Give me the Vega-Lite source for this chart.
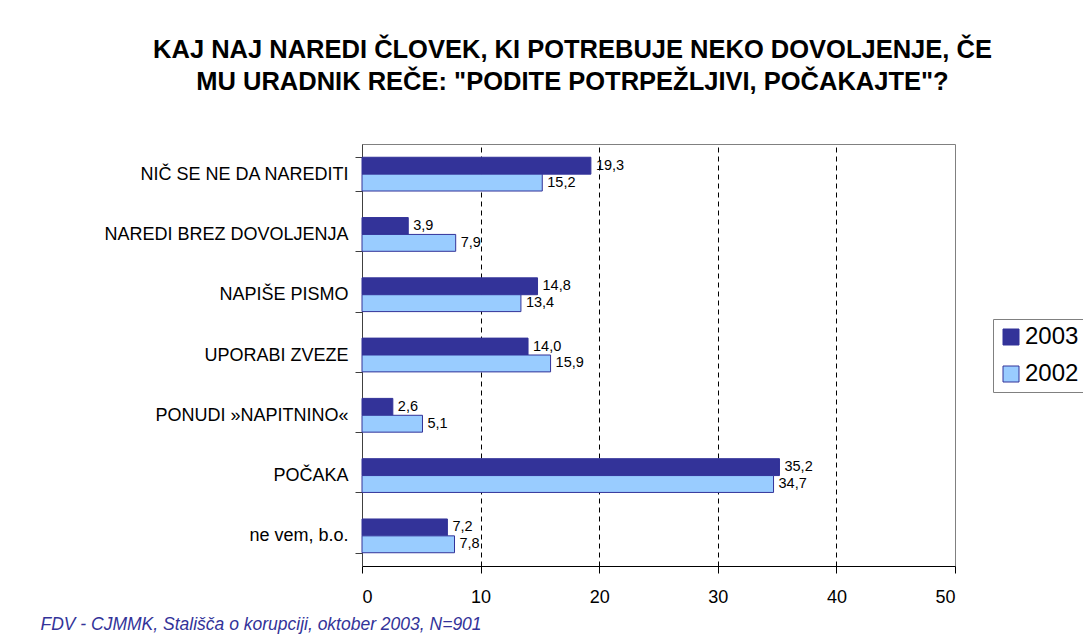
{
  "$schema": "https://vega.github.io/schema/vega-lite/v6.json",
  "autosize": "none",
  "width": 593,
  "height": 422,
  "padding": {"left": 362, "top": 144, "right": 128, "bottom": 72},
  "background": "white",
  "title": {
    "text": ["KAJ NAJ NAREDI ČLOVEK, KI POTREBUJE NEKO DOVOLJENJE, ČE", "MU URADNIK REČE: \"PODITE POTRPEŽLJIVI, POČAKAJTE\"?"],
    "font": "Liberation Sans",
    "fontSize": 25.5,
    "fontWeight": "bold",
    "color": "black",
    "anchor": "middle",
    "dx": -86,
    "offset": 40,
    "lineHeight": 32
  },
  "data": {
    "values": [
      {"odgovor": "NIČ SE NE DA NAREDITI", "leto": "2003", "delez": 19.3, "oznaka": "19,3"},
      {"odgovor": "NIČ SE NE DA NAREDITI", "leto": "2002", "delez": 15.2, "oznaka": "15,2"},
      {"odgovor": "NAREDI BREZ DOVOLJENJA", "leto": "2003", "delez": 3.9, "oznaka": "3,9"},
      {"odgovor": "NAREDI BREZ DOVOLJENJA", "leto": "2002", "delez": 7.9, "oznaka": "7,9"},
      {"odgovor": "NAPIŠE PISMO", "leto": "2003", "delez": 14.8, "oznaka": "14,8"},
      {"odgovor": "NAPIŠE PISMO", "leto": "2002", "delez": 13.4, "oznaka": "13,4"},
      {"odgovor": "UPORABI ZVEZE", "leto": "2003", "delez": 14.0, "oznaka": "14,0"},
      {"odgovor": "UPORABI ZVEZE", "leto": "2002", "delez": 15.9, "oznaka": "15,9"},
      {"odgovor": "PONUDI »NAPITNINO«", "leto": "2003", "delez": 2.6, "oznaka": "2,6"},
      {"odgovor": "PONUDI »NAPITNINO«", "leto": "2002", "delez": 5.1, "oznaka": "5,1"},
      {"odgovor": "POČAKA", "leto": "2003", "delez": 35.2, "oznaka": "35,2"},
      {"odgovor": "POČAKA", "leto": "2002", "delez": 34.7, "oznaka": "34,7"},
      {"odgovor": "ne vem, b.o.", "leto": "2003", "delez": 7.2, "oznaka": "7,2"},
      {"odgovor": "ne vem, b.o.", "leto": "2002", "delez": 7.8, "oznaka": "7,8"}
    ]
  },
  "encoding": {
    "y": {
      "field": "odgovor",
      "type": "nominal",
      "sort": ["NIČ SE NE DA NAREDITI", "NAREDI BREZ DOVOLJENJA", "NAPIŠE PISMO", "UPORABI ZVEZE", "PONUDI »NAPITNINO«", "POČAKA", "ne vem, b.o."],
      "scale": {"paddingInner": 0.44, "paddingOuter": 0.22},
      "axis": {
        "title": null,
        "tickBand": "extent",
        "tickSize": 7,
        "tickColor": "#404040",
        "domainColor": "#404040",
        "labelPadding": 7,
        "labelFontSize": 18,
        "labelLimit": 400,
        "labelColor": "black",
        "labelFont": "Liberation Sans",
        "grid": false
      }
    },
    "yOffset": {
      "field": "leto",
      "type": "nominal",
      "sort": ["2003", "2002"],
      "scale": {"paddingInner": 0, "paddingOuter": 0}
    },
    "x": {
      "field": "delez",
      "type": "quantitative",
      "scale": {"domain": [0, 50], "nice": false},
      "axis": {
        "values": [0, 10, 20, 30, 40, 50],
        "title": "FDV - CJMMK, Stališča o korupciji, oktober 2003, N=901",
        "titleFont": "Liberation Sans",
        "titleFontSize": 17.5,
        "titleFontStyle": "italic",
        "titleFontWeight": "normal",
        "titleColor": "#333399",
        "titleAnchor": "start",
        "titleAlign": "left",
        "titleBaseline": "middle",
        "titleX": -322,
        "titleY": 58,
        "tickSize": 7,
        "tickColor": "black",
        "domainColor": "black",
        "labelPadding": 15,
        "labelFontSize": 18,
        "labelColor": "black",
        "labelFont": "Liberation Sans",
        "grid": true,
        "gridColor": "black",
        "gridDash": [5, 4],
        "gridOpacity": {"condition": {"test": "datum.value == 0 || datum.value == 50", "value": 0}, "value": 1}
      }
    }
  },
  "layer": [
    {
      "mark": {"type": "bar", "stroke": "#333399", "strokeWidth": 1},
      "encoding": {
        "color": {
          "field": "leto",
          "type": "nominal",
          "sort": ["2003", "2002"],
          "scale": {"domain": ["2003", "2002"], "range": ["#333399", "#99CCFF"]},
          "legend": {
            "title": null,
            "orient": "none",
            "legendX": 631,
            "legendY": 175,
            "symbolType": "square",
            "symbolSize": 256,
            "symbolStrokeColor": "#333399",
            "symbolStrokeWidth": 1,
            "symbolOpacity": 1,
            "labelFontSize": 24,
            "labelFont": "Liberation Sans",
            "labelColor": "black",
            "labelOffset": 2,
            "labelLimit": 200,
            "rowPadding": 13,
            "padding": 6,
            "strokeColor": "#808080",
            "fillColor": "white"
          }
        }
      }
    },
    {
      "mark": {"type": "text", "align": "left", "baseline": "middle", "dx": 5, "fontSize": 14.5, "font": "Liberation Sans", "color": "black"},
      "encoding": {
        "text": {"field": "oznaka", "type": "nominal"}
      }
    }
  ],
  "config": {
    "font": "Liberation Sans",
    "view": {"stroke": "#808080", "strokeWidth": 1}
  }
}
